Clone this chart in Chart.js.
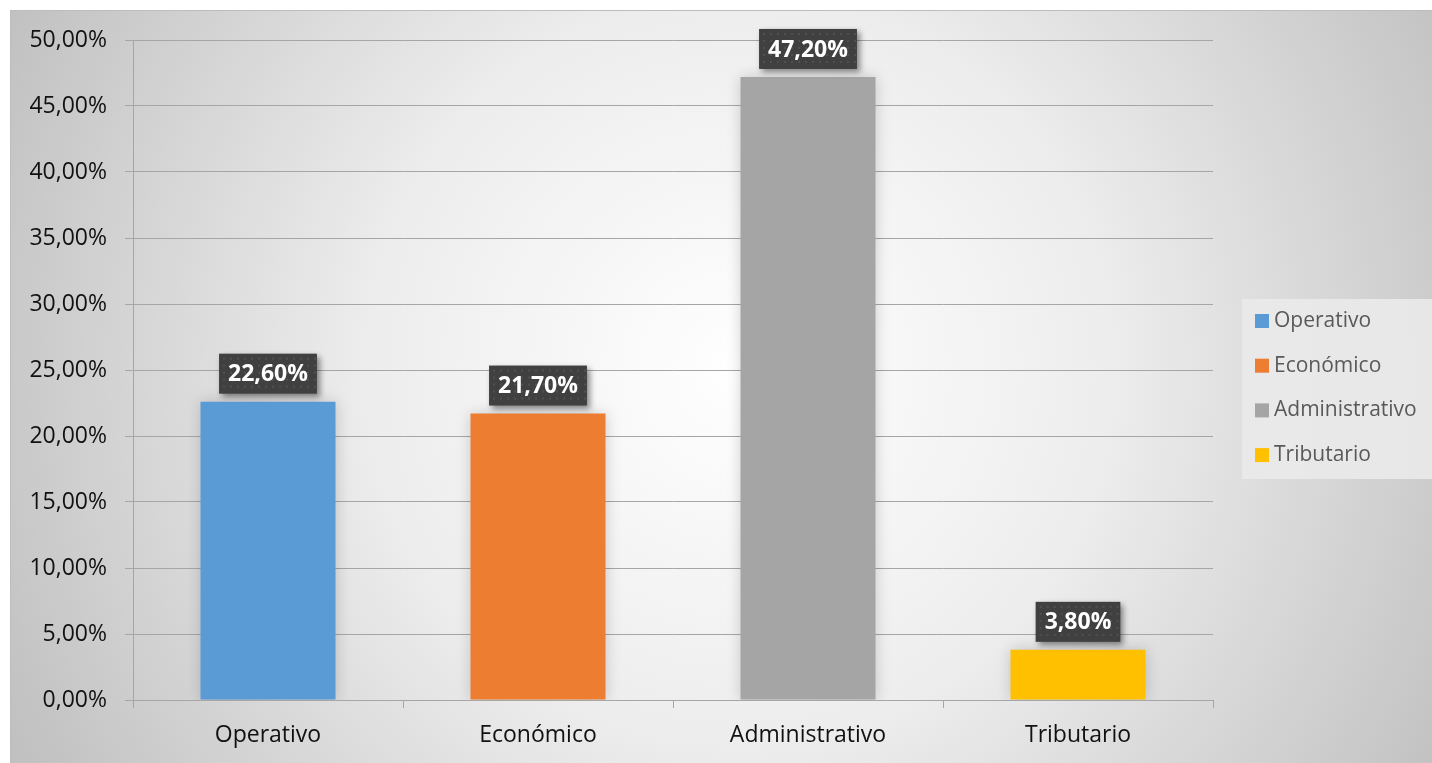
<!DOCTYPE html>
<html>
<head>
<meta charset="utf-8">
<script src="https://cdn.jsdelivr.net/npm/chart.js@4.4.1/dist/chart.umd.min.js"></script>
<style>
    html, body { margin: 0; padding: 0; background: #ffffff; }
    #wrap { position: absolute; left: 0; top: 0; width: 1432px; height: 763px; }
</style>
</head>
<body>
<div id="wrap"><canvas id="chart"></canvas></div>
<script>
const categories = ['Operativo', 'Económico', 'Administrativo', 'Tributario'];
const values = [22.6, 21.7, 47.2, 3.8];
const barColors = ['#5b9bd5', '#ed7d31', '#a5a5a5', '#ffc000'];
const yTicks = [0, 5, 10, 15, 20, 25, 30, 35, 40, 45, 50];

const FONT = '"Open Sans", "Noto Sans", sans-serif';

function pct(v) {
    return v.toFixed(2).replace('.', ',') + '%';
}

// fondo con degradado radial y borde, como en Excel
const backgroundPlugin = {
    id: 'bg',
    beforeDraw(chart) {
        const ctx = chart.ctx;
        ctx.save();
        const g = ctx.createRadialGradient(740, 370, 0, 740, 370, 820);
        g.addColorStop(0, '#ffffff');
        g.addColorStop(0.45, '#ededed');
        g.addColorStop(1, '#c0c0c0');
        ctx.fillStyle = g;
        ctx.fillRect(10, 10, chart.width - 10, chart.height - 10);
        ctx.strokeStyle = '#bdbdbd';
        ctx.lineWidth = 1;
        ctx.beginPath();
        ctx.moveTo(10.5, chart.height);
        ctx.lineTo(10.5, 10.5);
        ctx.lineTo(chart.width, 10.5);
        ctx.stroke();
        ctx.restore();
    }
};

// sombra suave de las barras
const shadowPlugin = {
    id: 'barShadow',
    beforeDatasetsDraw(chart) {
        const ctx = chart.ctx;
        ctx.save();
        ctx.shadowColor = 'rgba(0,0,0,0.18)';
        ctx.shadowBlur = 14;
        ctx.shadowOffsetX = 0;
        ctx.shadowOffsetY = 0;
    },
    afterDatasetsDraw(chart) {
        chart.ctx.restore();
    }
};

// etiquetas de datos en cajas oscuras
const labelPlugin = {
    id: 'dataLabels',
    afterDatasetsDraw(chart) {
        const ctx = chart.ctx;
        const meta = chart.getDatasetMeta(0);
        ctx.save();
        ctx.font = 'bold 23px ' + FONT;
        meta.data.forEach(function (bar, i) {
            const text = pct(values[i]);
            const w = ctx.measureText(text).width + 18;
            const h = 40;
            const x = bar.x - w / 2;
            const y = bar.y - 8 - h;
            ctx.save();
            ctx.shadowColor = 'rgba(0,0,0,0.45)';
            ctx.shadowBlur = 6;
            ctx.shadowOffsetX = 3;
            ctx.shadowOffsetY = 3;
            ctx.fillStyle = '#404040';
            ctx.fillRect(x, y, w, h);
            ctx.restore();
            ctx.fillStyle = 'rgba(255,255,255,0.09)';
            for (let dx = 4; dx < w - 2; dx += 7) {
                for (let dy = 4; dy < h - 2; dy += 7) {
                    ctx.fillRect(x + dx, y + dy, 2, 2);
                }
            }
            ctx.fillStyle = '#ffffff';
            ctx.textAlign = 'center';
            ctx.textBaseline = 'middle';
            ctx.fillText(text, bar.x, y + h / 2 + 1);
        });
        ctx.restore();
    }
};

// leyenda a la derecha
const legendPlugin = {
    id: 'sideLegend',
    afterDraw(chart) {
        const ctx = chart.ctx;
        ctx.save();
        ctx.fillStyle = 'rgba(234,234,234,0.9)';
        ctx.fillRect(1242, 299, 200, 180);
        ctx.font = '21px ' + FONT;
        ctx.textBaseline = 'middle';
        ctx.textAlign = 'left';
        categories.forEach(function (c, i) {
            const cy = 321 + i * 44.7;
            ctx.fillStyle = barColors[i];
            ctx.fillRect(1255, cy - 7, 14, 14);
            ctx.fillStyle = '#595959';
            ctx.fillText(c, 1274, cy);
        });
        ctx.restore();
    }
};

new Chart(document.getElementById('chart'), {
    type: 'bar',
    data: {
        labels: categories,
        datasets: [{
            data: values,
            backgroundColor: barColors,
            borderWidth: 0,
            categoryPercentage: 1,
            barPercentage: 0.5
        }]
    },
    options: {
        responsive: true,
        maintainAspectRatio: false,
        animation: false,
        devicePixelRatio: 1,
        layout: { padding: { top: 40, right: 219, left: 0, bottom: 0 } },
        plugins: {
            legend: { display: false },
            tooltip: { enabled: false }
        },
        scales: {
            x: {
                grid: {
                    offset: true,
                    drawOnChartArea: false,
                    drawTicks: true,
                    tickLength: 8,
                    color: '#a6a6a6'
                },
                border: { color: '#a6a6a6', width: 1 },
                ticks: {
                    color: '#111111',
                    font: { family: FONT, size: 23 },
                    padding: 14,
                    maxRotation: 0
                },
                afterFit(scale) { scale.height = 63; }
            },
            y: {
                min: 0,
                max: 50,
                afterBuildTicks(scale) {
                    scale.ticks = yTicks.map(function (v) { return { value: v }; });
                },
                grid: {
                    color: '#a6a6a6',
                    tickLength: 8,
                    drawTicks: true
                },
                border: { color: '#a6a6a6', width: 1 },
                ticks: {
                    color: '#111111',
                    font: { family: FONT, size: 23 },
                    padding: 18,
                    callback: function (v) { return pct(v); }
                },
                afterFit(scale) { scale.width = 133; }
            }
        }
    },
    plugins: [backgroundPlugin, shadowPlugin, labelPlugin, legendPlugin]
});
</script>
</body>
</html>
